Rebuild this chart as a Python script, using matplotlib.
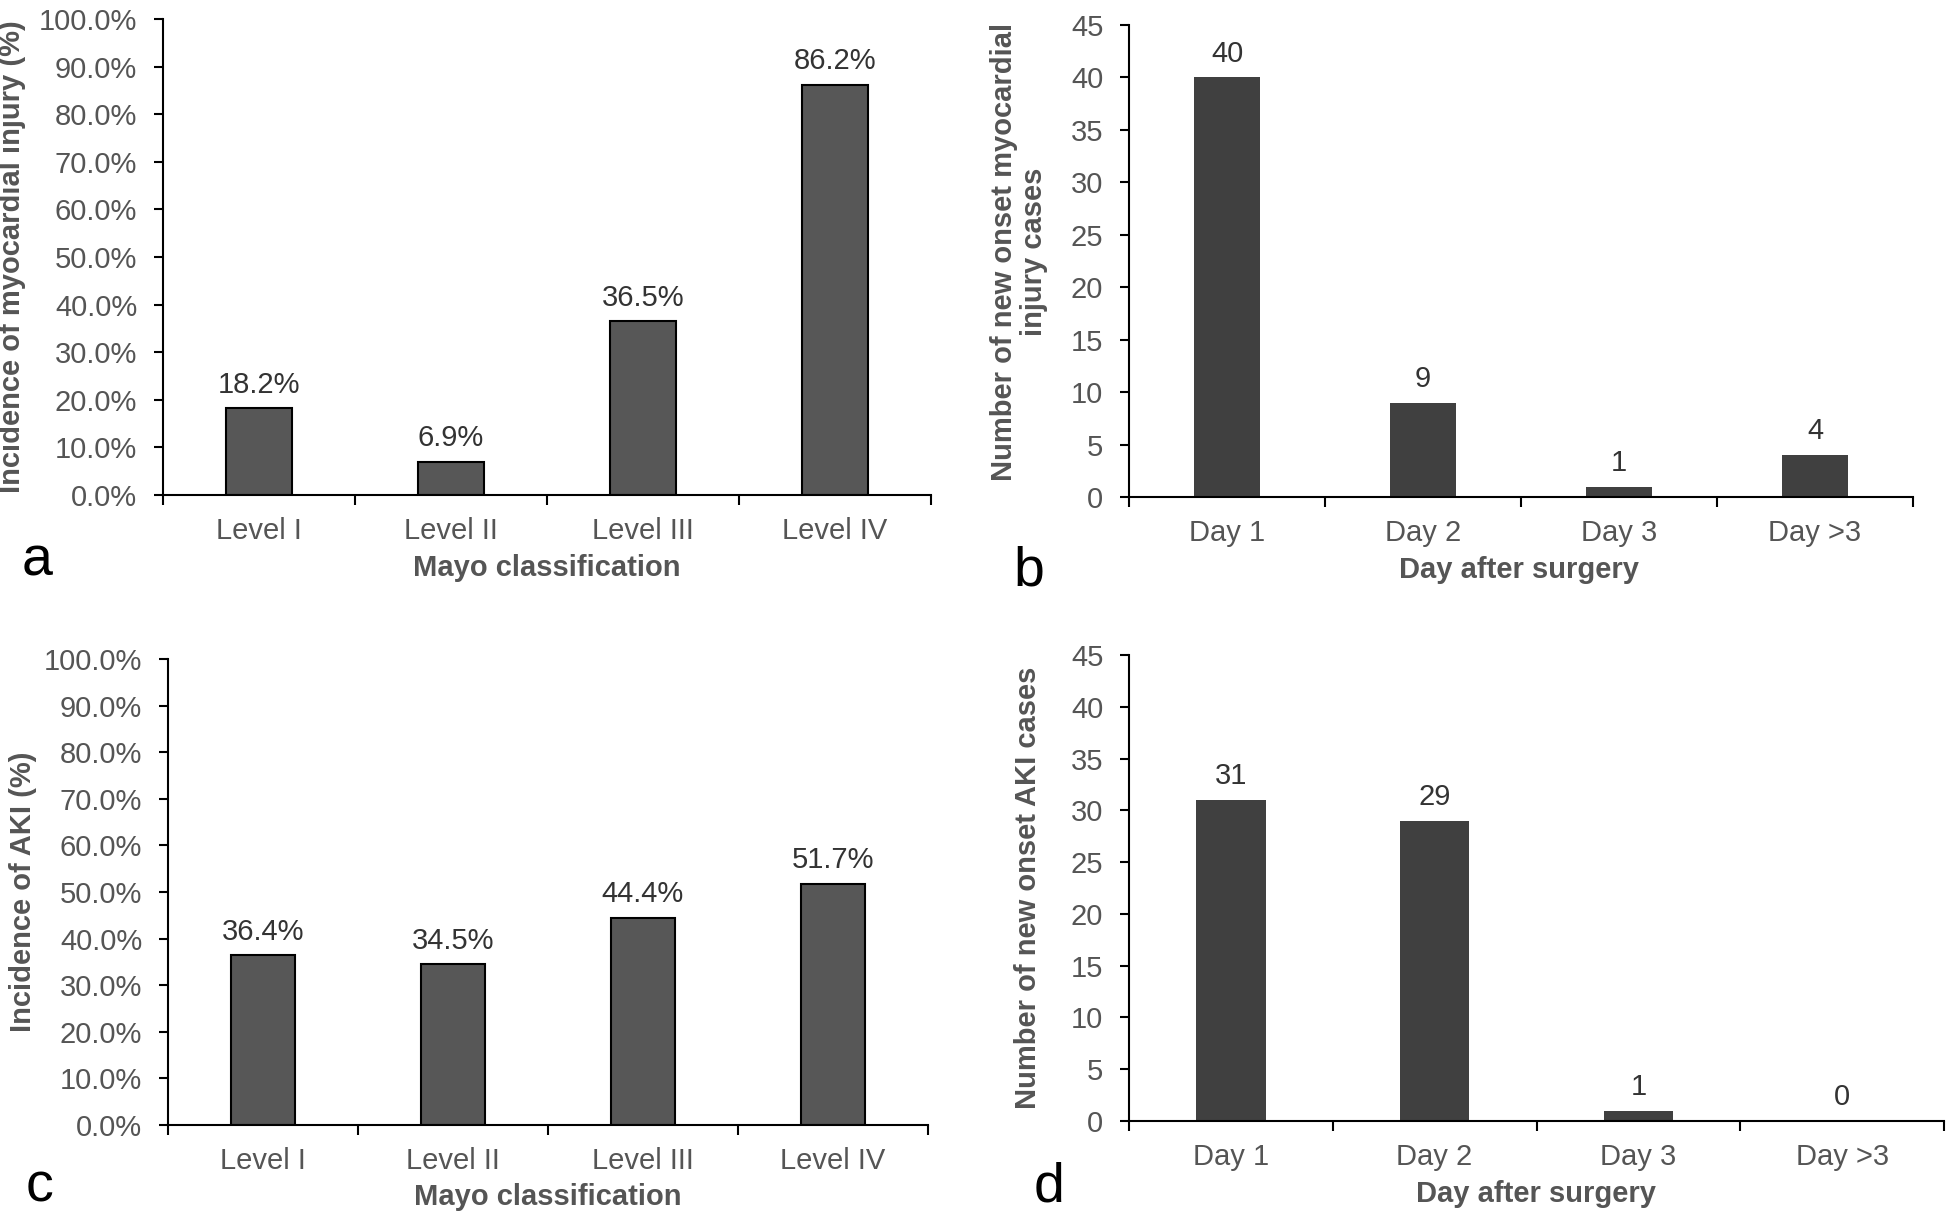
import numpy as np
import matplotlib
matplotlib.use("Agg")
import matplotlib.pyplot as plt

# data
levels = ["Level I", "Level II", "Level III", "Level IV"]
days = ["Day 1", "Day 2", "Day 3", "Day >3"]
myo_incidence = [18.2, 6.9, 36.5, 86.2]
myo_new_cases = [40, 9, 1, 4]
aki_incidence = [36.4, 34.5, 44.4, 51.7]
aki_new_cases = [31, 29, 1, 0]

plt.rcParams['font.family'] = ['Liberation Sans', 'DejaVu Sans']

TICK_C = "#555555"
VAL_C = "#333333"
FS = 21
W, H = 1952, 1212


def px_axes(fig, l, t, r, b):
  return fig.add_axes([l / W, 1 - b / H, (r - l) / W, (b - t) / H])


def style_axes(ax, cats, ymax, ystep, yfmt):
  n = len(cats)
  ax.set_xlim(0, n)
  ax.set_ylim(0, ymax)
  ax.set_xticks(np.arange(n) + 0.5)
  ax.set_xticklabels(cats)
  ax.set_xticks(np.arange(n + 1), minor=True)
  ax.tick_params(axis='x', which='major', length=0, pad=16, labelsize=FS, labelcolor=TICK_C)
  ax.tick_params(axis='x', which='minor', length=7, width=1.5, direction='out')
  yt = np.arange(0, ymax + ystep / 2, ystep)
  ax.set_yticks(yt)
  ax.set_yticklabels([yfmt(v) for v in yt])
  ax.tick_params(axis='y', length=6.5, width=1.5, direction='out', pad=12, labelsize=FS, labelcolor=TICK_C)
  for s in ['top', 'right']:
    ax.spines[s].set_visible(False)
  for s in ['left', 'bottom']:
    ax.spines[s].set_linewidth(1.5)


def draw_bars(ax, vals, color, edge, fmt):
  x = np.arange(len(vals)) + 0.5
  bars = ax.bar(x, vals, width=0.34, color=color, edgecolor=edge, linewidth=1.5 if edge else 0)
  ax.bar_label(bars, labels=[fmt(v) for v in vals], padding=7, fontsize=FS, color=VAL_C)


def labels(ax, ylab, yx, yy, xlab, xy, xx=0.5, **kw):
  ax.set_ylabel(ylab, fontsize=FS, fontweight='bold', color=TICK_C, **kw)
  ax.yaxis.set_label_coords(yx, yy)
  ax.set_xlabel(xlab, fontsize=FS, fontweight='bold', color=TICK_C)
  ax.xaxis.set_label_coords(xx, xy)


fig = plt.figure(figsize=(W / 100, H / 100), dpi=100)

# a
ax = px_axes(fig, 163, 19, 931, 495)
style_axes(ax, levels, 100, 10, lambda v: f"{v:.1f}%")
draw_bars(ax, myo_incidence, "#575757", "black", lambda v: f"{v:.1f}%")
labels(ax, "Incidence of myocardial injury (%)", -0.178, 0.5, "Mayo classification", -0.124)

# b
ax = px_axes(fig, 1129, 25, 1913, 497)
style_axes(ax, days, 45, 5, lambda v: f"{v:.0f}")
draw_bars(ax, myo_new_cases, "#404040", None, lambda v: f"{v:d}")
labels(ax, "Number of new onset myocardial\ninjury cases", -0.103, 0.52, "Day after surgery", -0.125,
       xx=0.497, linespacing=1.1)

# c
ax = px_axes(fig, 168, 659, 928, 1125)
style_axes(ax, levels, 100, 10, lambda v: f"{v:.1f}%")
draw_bars(ax, aki_incidence, "#575757", "black", lambda v: f"{v:.1f}%")
labels(ax, "Incidence of AKI (%)", -0.172, 0.5, "Mayo classification", -0.124)

# d
ax = px_axes(fig, 1129, 655, 1944, 1121)
style_axes(ax, days, 45, 5, lambda v: f"{v:.0f}")
draw_bars(ax, aki_new_cases, "#404040", None, lambda v: f"{v:d}")
labels(ax, "Number of new onset AKI cases", -0.107, 0.5, "Day after surgery", -0.127)

# panel letters
for letter, xp, yp in [("a", 37, 575), ("b", 1029, 585), ("c", 39, 1202), ("d", 1049, 1202)]:
  fig.text(xp / W, 1 - yp / H, letter, fontsize=40, ha='center', va='baseline', color='black')

fig.savefig("out.png", dpi=100, facecolor='white')
